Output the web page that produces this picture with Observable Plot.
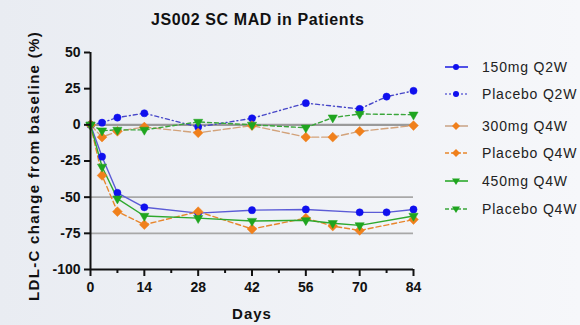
<!DOCTYPE html>
<html>
<head>
<meta charset="utf-8">
<script src="https://cdn.jsdelivr.net/npm/d3@7"></script>
<script src="https://cdn.jsdelivr.net/npm/@observablehq/plot@0.6"></script>
<style>
  html, body { margin: 0; padding: 0; }
  body { width: 580px; height: 325px; overflow: hidden;
         background: linear-gradient(to right, #e9ecf2, #f6f7fa);
         font-family: "Liberation Sans", Arial, sans-serif; }
  #wrap { position: relative; width: 580px; height: 325px; }
  #chart { position: absolute; left: 0; top: 0; }
  .title { position: absolute; left: 151px; width: 200px; top: 11px; text-align: center;
           font-weight: bold; font-size: 16px; letter-spacing: 0.6px; color: #111; white-space: nowrap; }
  .ylab { position: absolute; left: 33px; top: 166px; transform: translate(-50%, -50%) rotate(-90deg);
          white-space: nowrap; font-weight: bold; font-size: 15px; letter-spacing: 1.3px; color: #111; }
  .xlab { position: absolute; left: 202px; width: 100px; top: 305px; text-align: center;
          font-weight: bold; font-size: 15px; letter-spacing: 1px; color: #111; }
  #legend { position: absolute; left: 444px; top: 58px; }
  .item { position: absolute; left: 0; height: 18px; display: flex; align-items: center;
          font-size: 14px; letter-spacing: 0.8px; color: #222; white-space: nowrap; }
  .item svg { margin-right: 12px; }
</style>
</head>
<body>
<div id="wrap">
  <div id="chart"></div>
  <div class="title">JS002 SC MAD in Patients</div>
  <div class="ylab">LDL-C change from baseline (%)</div>
  <div class="xlab">Days</div>
  <div id="legend"></div>
</div>
<script>
// ---- data ----
const legendLabels = ["150mg Q2W", "Placebo Q2W", "300mg Q4W", "Placebo Q4W", "450mg Q4W", "Placebo Q4W"];

const daysQ2W = [0, 3, 7, 14, 28, 42, 56, 70, 77, 84];
const daysQ4W = [0, 3, 7, 14, 28, 42, 56, 63, 70, 84];

const v150mgQ2W   = [0, -22, -47, -57, -61, -59, -58.5, -60.5, -60.5, -58.5];
const vPlaceboQ2W = [0, 1.5, 5, 8, -1.5, 4.5, 15, 11, 19.5, 23.5];
const vOrangeLow  = [0, -35, -60, -69, -60, -72, -64.5, -70, -73, -65.5];
const vOrangeHigh = [0, -8.5, -4.5, -1.5, -5.5, -0.5, -8.5, -8.5, -4.5, -0.5];
const v450mgQ4W   = [0, -29, -51, -63, -64.5, -66.5, -66, -68, -69.5, -63];
const vPlaceboQ4W = [0, -4, -3.5, -3.5, 2, 0, -2, 5, 7.5, 7];

const yTicks = [-100, -75, -50, -25, 0, 25, 50];
const xTicks = [0, 14, 28, 42, 56, 70, 84];
const xMinor = [7, 21, 35, 49, 63, 77];
const refLines = [-50, -75];

// ---- styles ----
const styles = [
  {days: daysQ2W, vals: v150mgQ2W,   line: "#5b5bd6", dash: null,      mark: "#1010ee", sym: "circle",   rot: 0,   r: 3.6},
  {days: daysQ2W, vals: vPlaceboQ2W, line: "#4646c8", dash: "4,3,1,3", mark: "#1010ee", sym: "circle",   rot: 0,   r: 3.6},
  {days: daysQ4W, vals: vOrangeLow,  line: "#e8862c", dash: "5,3",     mark: "#f0801c", sym: "diamond2", rot: 0,   r: 4.4},
  {days: daysQ4W, vals: vOrangeHigh, line: "#d2a27a", dash: "7,3",     mark: "#f0801c", sym: "diamond2", rot: 0,   r: 4.4},
  {days: daysQ4W, vals: v450mgQ4W,   line: "#2ea82e", dash: null,      mark: "#1fa51f", sym: "triangle2", rot: 180, r: 4.4},
  {days: daysQ4W, vals: vPlaceboQ4W, line: "#3aa63a", dash: "4,3",     mark: "#1fa51f", sym: "triangle2", rot: 180, r: 4.4}
];

const fmt = d => (d < 0 ? "-" + Math.abs(d) : String(d));

const marks = [];
marks.push(Plot.ruleY([0], {x1: 0, x2: 84, stroke: "#9a9a9a", strokeWidth: 2.2}));
marks.push(Plot.ruleY(refLines, {x1: 0, x2: 84, stroke: "#a8a8a8", strokeWidth: 1.6}));

styles.forEach(s => {
  const data = s.days.map((d, j) => ({day: d, value: s.vals[j]}));
  marks.push(Plot.line(data, {x: "day", y: "value", stroke: s.line, strokeWidth: 1.4,
    strokeDasharray: s.dash, curve: "linear"}));
});
styles.forEach(s => {
  const data = s.days.map((d, j) => ({day: d, value: s.vals[j]}));
  marks.push(Plot.dot(data, {x: "day", y: "value", symbol: s.sym, r: s.r, fill: s.mark,
    stroke: s.mark, strokeWidth: 0.5, rotate: s.rot}));
});

marks.push(Plot.axisY({ticks: yTicks, tickFormat: fmt, tickSize: 6, tickPadding: 4, strokeWidth: 2, label: null,
  fontSize: 14, fontWeight: "bold", fill: "#111", letterSpacing: 0.4}));
marks.push(Plot.axisX({ticks: xTicks, tickFormat: fmt, tickSize: 7, tickPadding: 6, strokeWidth: 2, label: null,
  fontSize: 14, fontWeight: "bold", fill: "#111", letterSpacing: 0.4}));
marks.push(Plot.axisX({ticks: xMinor, tickSize: 4, strokeWidth: 2, label: null, text: null}));
marks.push(Plot.ruleX([0], {y1: -100, y2: 50, stroke: "#111", strokeWidth: 2}));
marks.push(Plot.ruleY([-100], {x1: 0, x2: 84, stroke: "#111", strokeWidth: 2}));

const chart = Plot.plot({
  width: 580, height: 325,
  marginLeft: 90, marginRight: 167, marginTop: 52, marginBottom: 56,
  style: {background: "transparent", fontFamily: "Liberation Sans, Arial, sans-serif", color: "#111"},
  x: {domain: [0, 84]},
  y: {domain: [-100, 50]},
  marks
});
document.getElementById("chart").appendChild(chart);

// legend
const legendLines = ["#1a1ae0", "#6a6ad8", "#c9a284", "#e8862c", "#1fa51f", "#3aa63a"];
const legendDash = [null, "2,2", null, "4,2", null, "4,2"];
const legendRows = [9, 36, 68, 95, 123, 151];
const legend = document.getElementById("legend");
legendLabels.forEach((lab, i) => {
  const s = styles[i];
  const div = document.createElement("div");
  div.className = "item";
  div.style.top = (legendRows[i] - 9) + "px";
  let sym;
  if (s.sym === "circle") sym = `<circle cx="12" cy="9" r="3" fill="${s.mark}"/>`;
  else if (s.sym === "diamond2") sym = `<path d="M12,5 L16,9 L12,13 L8,9Z" fill="${s.mark}"/>`;
  else sym = `<path d="M8,6.5 L16,6.5 L12,13Z" fill="${s.mark}"/>`;
  div.innerHTML = `<svg width="26" height="18"><line x1="1" x2="24" y1="9" y2="9" stroke="${legendLines[i]}" stroke-width="1.5" ${legendDash[i] ? `stroke-dasharray="${legendDash[i]}"` : ""}/>${sym}</svg><span>${lab}</span>`;
  legend.appendChild(div);
});
</script>
</body>
</html>
